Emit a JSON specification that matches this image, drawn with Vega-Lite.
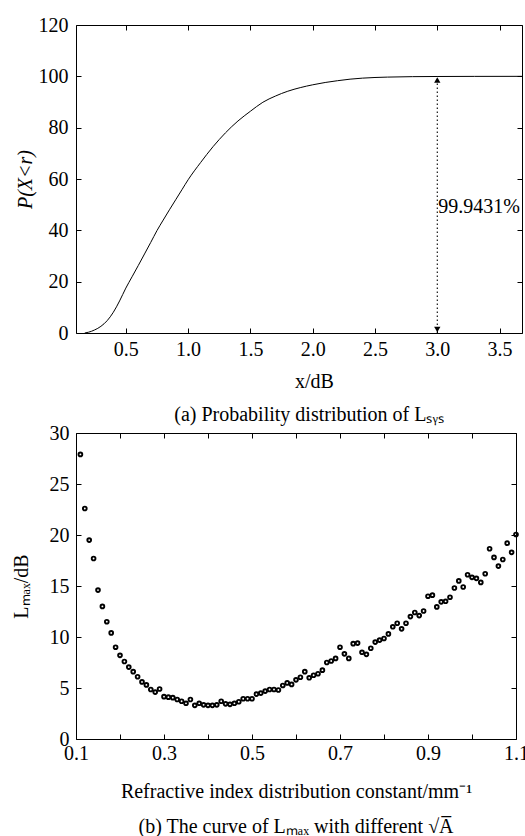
{
  "$schema": "https://vega.github.io/schema/vega-lite/v6.json",
  "background": "white",
  "padding": {"top": 14, "left": 10, "right": 2, "bottom": 0},
  "columns": 1,
  "align": "none",
  "spacing": -4,
  "datasets": {
    "curve": [
      {"x": 0.17, "p": 0}, {"x": 0.2, "p": 0.3}, {"x": 0.25, "p": 1.2}, {"x": 0.3, "p": 2.6},
      {"x": 0.35, "p": 4.8}, {"x": 0.4, "p": 8.1}, {"x": 0.45, "p": 12.5}, {"x": 0.5, "p": 17.5},
      {"x": 0.55, "p": 21.9}, {"x": 0.6, "p": 26.3}, {"x": 0.65, "p": 30.8}, {"x": 0.7, "p": 35.3},
      {"x": 0.75, "p": 39.9}, {"x": 0.8, "p": 44.0}, {"x": 0.85, "p": 48.0}, {"x": 0.9, "p": 51.9},
      {"x": 0.95, "p": 55.8}, {"x": 1.0, "p": 59.7}, {"x": 1.1, "p": 66.4}, {"x": 1.2, "p": 72.6},
      {"x": 1.3, "p": 78.0}, {"x": 1.4, "p": 82.6}, {"x": 1.5, "p": 86.4}, {"x": 1.6, "p": 89.9},
      {"x": 1.7, "p": 92.3}, {"x": 1.8, "p": 94.2}, {"x": 1.9, "p": 95.6}, {"x": 2.0, "p": 96.7},
      {"x": 2.1, "p": 97.6}, {"x": 2.2, "p": 98.3}, {"x": 2.3, "p": 98.9}, {"x": 2.4, "p": 99.3},
      {"x": 2.6, "p": 99.7}, {"x": 2.8, "p": 99.88}, {"x": 3.0, "p": 99.94}, {"x": 3.3, "p": 99.98},
      {"x": 3.68, "p": 100}
    ],
    "marker": [{"x": 3.0, "y0": 0, "y1": 100}],
    "arrows": [{"x": 3.0, "y": 98.6, "dir": "up"}, {"x": 3.0, "y": 1.4, "dir": "down"}],
    "label": [{"x": 3.0, "y": 49, "text": "99.9431%"}],
    "scatter": [
      {"a": 0.11, "L": 27.9}, {"a": 0.12, "L": 22.6}, {"a": 0.13, "L": 19.5}, {"a": 0.14, "L": 17.7},
      {"a": 0.15, "L": 14.6}, {"a": 0.16, "L": 13.0}, {"a": 0.17, "L": 11.5}, {"a": 0.18, "L": 10.4},
      {"a": 0.19, "L": 9.0}, {"a": 0.20, "L": 8.2}, {"a": 0.21, "L": 7.6}, {"a": 0.22, "L": 7.05},
      {"a": 0.23, "L": 6.6}, {"a": 0.24, "L": 6.1}, {"a": 0.25, "L": 5.6}, {"a": 0.26, "L": 5.3},
      {"a": 0.27, "L": 4.85}, {"a": 0.28, "L": 4.6}, {"a": 0.29, "L": 4.9}, {"a": 0.30, "L": 4.15},
      {"a": 0.31, "L": 4.1}, {"a": 0.32, "L": 4.05}, {"a": 0.33, "L": 3.87}, {"a": 0.34, "L": 3.7},
      {"a": 0.35, "L": 3.5}, {"a": 0.36, "L": 3.87}, {"a": 0.37, "L": 3.3}, {"a": 0.38, "L": 3.5},
      {"a": 0.39, "L": 3.35}, {"a": 0.40, "L": 3.3}, {"a": 0.41, "L": 3.3}, {"a": 0.42, "L": 3.35},
      {"a": 0.43, "L": 3.7}, {"a": 0.44, "L": 3.45}, {"a": 0.45, "L": 3.4}, {"a": 0.46, "L": 3.5},
      {"a": 0.47, "L": 3.65}, {"a": 0.48, "L": 3.95}, {"a": 0.49, "L": 3.95}, {"a": 0.50, "L": 3.95},
      {"a": 0.51, "L": 4.4}, {"a": 0.52, "L": 4.5}, {"a": 0.53, "L": 4.7}, {"a": 0.54, "L": 4.85},
      {"a": 0.55, "L": 4.85}, {"a": 0.56, "L": 4.8}, {"a": 0.57, "L": 5.25}, {"a": 0.58, "L": 5.5},
      {"a": 0.59, "L": 5.35}, {"a": 0.60, "L": 5.8}, {"a": 0.61, "L": 6.05}, {"a": 0.62, "L": 6.6},
      {"a": 0.63, "L": 6.0}, {"a": 0.64, "L": 6.25}, {"a": 0.65, "L": 6.4}, {"a": 0.66, "L": 6.75},
      {"a": 0.67, "L": 7.5}, {"a": 0.68, "L": 7.65}, {"a": 0.69, "L": 7.9}, {"a": 0.70, "L": 9.0},
      {"a": 0.71, "L": 8.35}, {"a": 0.72, "L": 7.9}, {"a": 0.73, "L": 9.35}, {"a": 0.74, "L": 9.4},
      {"a": 0.75, "L": 8.5}, {"a": 0.76, "L": 8.3}, {"a": 0.77, "L": 8.9}, {"a": 0.78, "L": 9.5},
      {"a": 0.79, "L": 9.7}, {"a": 0.80, "L": 9.85}, {"a": 0.81, "L": 10.3}, {"a": 0.82, "L": 11.0},
      {"a": 0.83, "L": 11.35}, {"a": 0.84, "L": 10.8}, {"a": 0.85, "L": 11.35}, {"a": 0.86, "L": 12.0},
      {"a": 0.87, "L": 12.4}, {"a": 0.88, "L": 12.1}, {"a": 0.89, "L": 12.55}, {"a": 0.90, "L": 14.0},
      {"a": 0.91, "L": 14.1}, {"a": 0.92, "L": 12.95}, {"a": 0.93, "L": 13.45}, {"a": 0.94, "L": 13.5},
      {"a": 0.95, "L": 13.9}, {"a": 0.96, "L": 14.8}, {"a": 0.97, "L": 15.5}, {"a": 0.98, "L": 14.9},
      {"a": 0.99, "L": 16.1}, {"a": 1.00, "L": 15.85}, {"a": 1.01, "L": 15.75}, {"a": 1.02, "L": 15.35},
      {"a": 1.03, "L": 16.2}, {"a": 1.04, "L": 18.65}, {"a": 1.05, "L": 17.8}, {"a": 1.06, "L": 16.95},
      {"a": 1.07, "L": 17.6}, {"a": 1.08, "L": 19.2}, {"a": 1.09, "L": 18.3}, {"a": 1.10, "L": 20.05}
    ]
  },
  "concat": [
    {
      "width": 446,
      "height": 308,
      "title": {"text": "(a) Probability distribution of Lₛᵧₛ", "orient": "bottom", "frame": "group", "anchor": "middle", "dx": 10, "offset": 14},
      "layer": [
        {
          "data": {"name": "curve"},
          "mark": {"type": "line", "color": "black", "strokeWidth": 1, "interpolate": "monotone"},
          "encoding": {
            "x": {"field": "x", "type": "quantitative", "scale": {"domain": [0.1, 3.68], "nice": false, "zero": false},
                  "axis": {"orient": "bottom", "values": [0.5, 1.0, 1.5, 2.0, 2.5, 3.0, 3.5], "format": ".1f", "labelPadding": 11, "title": "x/dB", "titlePadding": 12, "titleX": 238}},
            "y": {"field": "p", "type": "quantitative", "scale": {"domain": [0, 120], "nice": false},
                  "axis": {"orient": "left", "values": [0, 20, 40, 60, 80, 100, 120], "labelPadding": 13, "title": "P(X<r)", "titleFontStyle": "italic", "titlePadding": 3}}
          }
        },
        {
          "data": {"name": "curve"},
          "mark": {"type": "line", "opacity": 0},
          "encoding": {
            "x": {"field": "x", "type": "quantitative", "axis": {"orient": "top", "values": [0.5, 1.0, 1.5, 2.0, 2.5, 3.0, 3.5], "labels": false, "title": null}},
            "y": {"field": "p", "type": "quantitative", "axis": {"orient": "right", "values": [0, 20, 40, 60, 80, 100, 120], "labels": false, "title": null}}
          }
        },
        {
          "data": {"name": "marker"},
          "mark": {"type": "rule", "color": "black", "strokeWidth": 1.1, "strokeDash": [1.5, 2.5]},
          "encoding": {
            "x": {"field": "x", "type": "quantitative", "axis": null},
            "y": {"field": "y0", "type": "quantitative", "axis": null},
            "y2": {"field": "y1"}
          }
        },
        {
          "data": {"name": "arrows"},
          "mark": {"type": "point", "filled": true, "color": "black", "size": 40, "opacity": 1},
          "encoding": {
            "x": {"field": "x", "type": "quantitative", "axis": null},
            "y": {"field": "y", "type": "quantitative", "axis": null},
            "shape": {"field": "dir", "type": "nominal", "scale": {"domain": ["up", "down"], "range": ["triangle-up", "triangle-down"]}, "legend": null}
          }
        },
        {
          "data": {"name": "label"},
          "mark": {"type": "text", "align": "left", "baseline": "middle", "dx": 1, "font": "Liberation Serif", "fontSize": 20, "color": "black"},
          "encoding": {
            "x": {"field": "x", "type": "quantitative", "axis": null},
            "y": {"field": "y", "type": "quantitative", "axis": null},
            "text": {"field": "text"}
          }
        }
      ],
      "resolve": {"axis": {"x": "independent", "y": "independent"}}
    },
    {
      "width": 440,
      "height": 306,
      "title": {"text": "(b) The curve of Lₘₐₓ with different √A̅", "orient": "bottom", "frame": "group", "anchor": "middle", "offset": 16},
      "layer": [
        {
          "data": {"name": "scatter"},
          "mark": {"type": "point", "filled": false, "stroke": "black", "strokeWidth": 1.9, "size": 14, "opacity": 1},
          "encoding": {
            "x": {"field": "a", "type": "quantitative", "scale": {"domain": [0.1, 1.1], "nice": false, "zero": false},
                  "axis": {"orient": "bottom", "values": [0.1, 0.2, 0.3, 0.4, 0.5, 0.6, 0.7, 0.8, 0.9, 1.0, 1.1],
                           "labelExpr": "round(datum.value * 10) % 2 == 1 ? format(datum.value, '.1f') : ''",
                           "labelPadding": 9, "title": "Refractive index distribution constant/mm⁻¹", "titlePadding": 18}},
            "y": {"field": "L", "type": "quantitative", "scale": {"domain": [0, 30], "nice": false},
                  "axis": {"orient": "left", "values": [0, 5, 10, 15, 20, 25, 30], "labelPadding": 12, "title": "Lₘₐₓ/dB", "titlePadding": 18}}
          }
        },
        {
          "data": {"name": "scatter"},
          "mark": {"type": "point", "opacity": 0},
          "encoding": {
            "x": {"field": "a", "type": "quantitative", "axis": {"orient": "top", "values": [0.1, 0.2, 0.3, 0.4, 0.5, 0.6, 0.7, 0.8, 0.9, 1.0, 1.1], "labels": false, "title": null}},
            "y": {"field": "L", "type": "quantitative", "axis": {"orient": "right", "values": [0, 5, 10, 15, 20, 25, 30], "labels": false, "title": null}}
          }
        }
      ],
      "resolve": {"axis": {"x": "independent", "y": "independent"}}
    }
  ],
  "config": {
    "font": "Liberation Serif",
    "view": {"stroke": "black", "strokeWidth": 1},
    "axis": {
      "domain": false, "grid": false, "ticks": true, "tickSize": -5, "tickColor": "black", "tickWidth": 1,
      "labelFont": "Liberation Serif", "labelFontSize": 20, "labelColor": "black", "labelFlush": false, "labelOverlap": false,
      "titleFont": "Liberation Serif", "titleFontSize": 20, "titleFontWeight": "normal", "titleColor": "black"
    },
    "title": {"font": "Liberation Serif", "fontSize": 20, "fontWeight": "normal", "color": "black"}
  }
}
